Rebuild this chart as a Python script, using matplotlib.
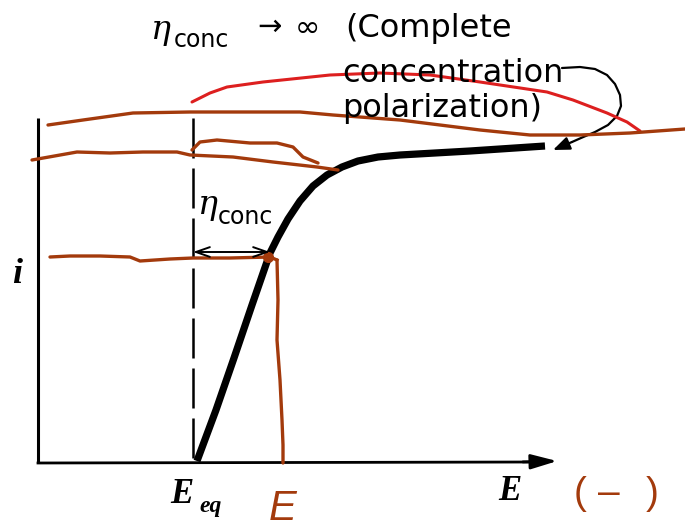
import matplotlib
matplotlib.use("Agg")
import matplotlib.pyplot as plt

# Polarization curve (E, i) in drawing units
E_curve = [197, 216, 234, 252, 270, 278, 288, 300, 313, 327, 342, 358, 378, 400, 470, 545]
i_curve = [461, 410, 358, 305, 253, 237, 219, 201, 186, 175, 167, 161, 157, 155, 151, 146]

# Reference levels
E_eq = 193
E_applied = 270
i_level = 256
axis_origin = (38, 463)
axis_top = 118
axis_end = 560

# Hand-drawn overlay traces
top_trace_x = [48, 83, 133, 190, 233, 300, 333, 400, 480, 530, 580, 630, 685]
top_trace_y = [125, 120, 113, 112, 112, 112, 115, 120, 130, 135, 135, 133, 129]

limit_trace_x = [32, 77, 110, 143, 177, 190, 233, 273, 317, 338]
limit_trace_y = [160, 152, 153, 152, 152, 155, 157, 162, 167, 170]
bump_trace_x = [192, 200, 217, 250, 277, 293, 303, 318]
bump_trace_y = [150, 142, 140, 143, 143, 147, 157, 163]

level_trace_x = [50, 70, 100, 130, 140, 170, 193, 230, 270]
level_trace_y = [257, 256, 256, 257, 261, 259, 258, 258, 257]
drop_trace_x = [277, 278, 277, 280, 282, 283, 283]
drop_trace_y = [260, 300, 340, 380, 420, 445, 463]

red_trace_x = [192, 210, 227, 263, 330, 380, 430, 480, 547, 573, 607, 627, 640]
red_trace_y = [102, 93, 87, 82, 75, 73, 75, 82, 92, 100, 113, 122, 131]

leader_x = [562, 580, 595, 607, 615, 620, 621, 617, 608, 595, 581, 572]
leader_y = [68, 67, 69, 75, 84, 95, 106, 116, 125, 132, 138, 142]

brown = "#a33a0c"
red = "#dd1f1f"

fig = plt.figure(figsize=(6.85, 5.31), dpi=100)
ax = fig.add_axes([0, 0, 1, 1])
ax.set_xlim(0, 685)
ax.set_ylim(531, 0)
ax.axis("off")

# Axes of the diagram
ax.plot([axis_origin[0], axis_origin[0]], [axis_top, axis_origin[1]], color="black", lw=2.2,
        solid_capstyle="butt")
ax.plot([axis_origin[0], axis_end - 25], [axis_origin[1], axis_origin[1] - 1], color="black", lw=2.0)
ax.annotate("", xy=(axis_end, axis_origin[1] - 2), xytext=(axis_end - 40, axis_origin[1] - 1),
            arrowprops=dict(arrowstyle="-|>,head_length=1.6,head_width=0.45", color="black", lw=2.0))

# Equilibrium potential (dashed)
ax.plot([E_eq, E_eq], [axis_top, axis_origin[1] - 2], color="black", lw=1.8,
        dashes=(16, 4))

# Polarization curve
ax.plot(E_curve, i_curve, color="black", lw=5.2, solid_capstyle="butt", solid_joinstyle="round")

# Overpotential double arrow
ax.annotate("", xy=(E_applied, i_level - 4), xytext=(E_eq, i_level - 4),
            arrowprops=dict(arrowstyle="<->,head_length=1.0,head_width=0.35", color="black", lw=1.4,
                            shrinkA=0, shrinkB=0))

# Leader from the annotation to the limiting plateau
ax.plot(leader_x, leader_y, color="black", lw=1.6, solid_capstyle="round", solid_joinstyle="round")
ax.annotate("", xy=(553, 150), xytext=(leader_x[-1], leader_y[-1]),
            arrowprops=dict(arrowstyle="-|>,head_length=1.0,head_width=0.4", color="black", lw=1.6,
                            shrinkA=0, shrinkB=0))

# Overlay traces
ax.plot(red_trace_x, red_trace_y, color=red, lw=2.2, solid_capstyle="round")
ax.plot(top_trace_x, top_trace_y, color=brown, lw=2.4, solid_capstyle="round")
ax.plot(limit_trace_x, limit_trace_y, color=brown, lw=2.4, solid_capstyle="round")
ax.plot(bump_trace_x, bump_trace_y, color=brown, lw=2.4, solid_capstyle="round")
ax.plot(level_trace_x, level_trace_y, color=brown, lw=2.4, solid_capstyle="round")
ax.plot([level_trace_x[-1], drop_trace_x[0]], [level_trace_y[-1], drop_trace_y[0]], color=brown, lw=2.4)
ax.plot(drop_trace_x, drop_trace_y, color=brown, lw=2.4, solid_capstyle="round")
ax.plot([E_applied - 2], [i_level + 1], "o", color=brown, ms=7)

# Labels
sans = "DejaVu Sans"
serif = "Liberation Serif"
ax.text(151, 39, "\u03b7", fontsize=24, family="DejaVu Serif", style="italic", va="baseline")
ax.text(174, 47, "conc", fontsize=17, family=sans, va="baseline")
ax.text(257, 35, "\u2192", fontsize=21, family=sans, va="baseline")
ax.text(295, 37, "\u221e", fontsize=22, family=sans, va="baseline")
ax.text(345, 37, "(Complete", fontsize=23, family=sans, va="baseline")
ax.text(342, 82, "concentration", fontsize=23, family=sans, va="baseline")
ax.text(342, 117, "polarization)", fontsize=23, family=sans, va="baseline")

ax.text(198, 214, "\u03b7", fontsize=24, family="DejaVu Serif", style="italic", va="baseline")
ax.text(218, 224, "conc", fontsize=17, family=sans, va="baseline")

ax.text(12, 283, "i", fontsize=26, family=serif, style="italic", weight="bold", va="baseline")
ax.text(170, 503, "E", fontsize=25, family=serif, style="italic", weight="bold", va="baseline")
ax.text(199, 512, "eq", fontsize=17, family=serif, style="italic", weight="bold", va="baseline")
ax.text(498, 500, "E", fontsize=25, family=serif, style="italic", weight="bold", va="baseline")

# Handwritten notes
ax.text(283, 529, "E", fontsize=30, family="Liberation Sans", style="italic", color=brown,
        ha="center", va="bottom")
for x, s in [(580, "("), (609, "\u2013"), (652, ")")]:
    ax.text(x, 504, s, fontsize=28, family="Liberation Sans", color=brown, ha="center",
            va="baseline")

fig.savefig("out.png", dpi=100)
